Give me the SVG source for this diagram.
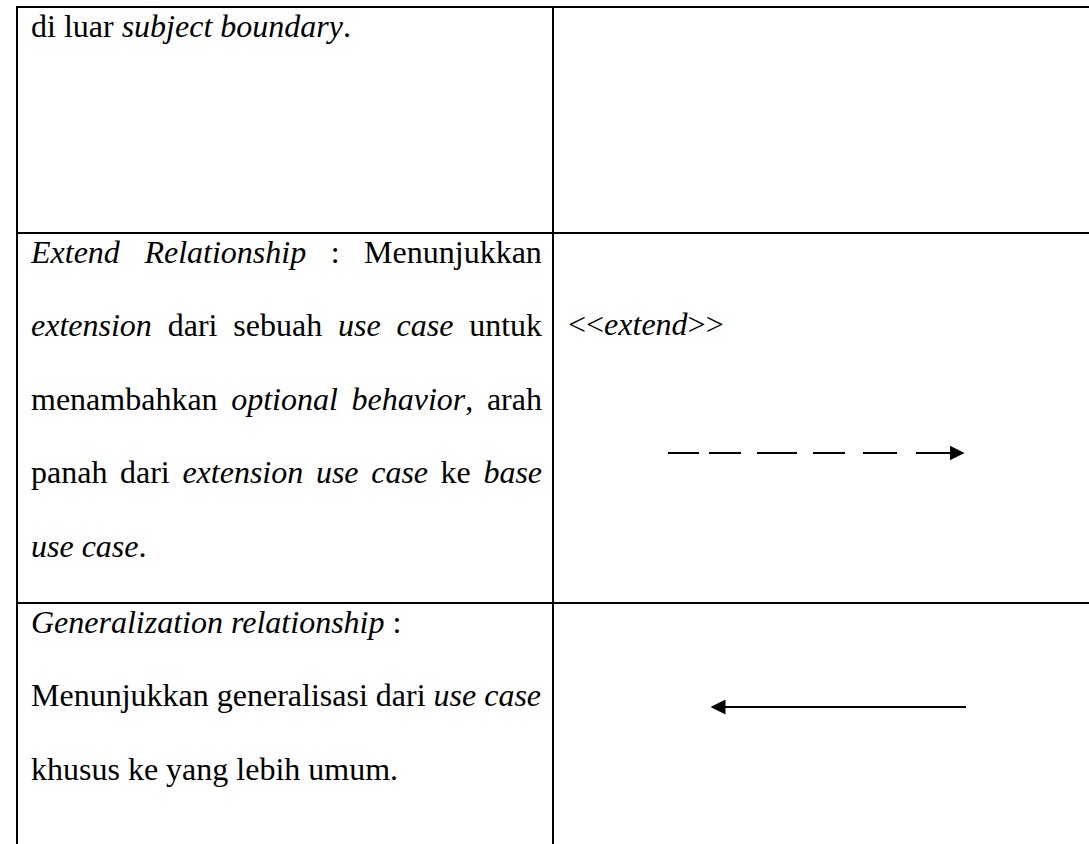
<svg xmlns="http://www.w3.org/2000/svg" width="1089" height="844" viewBox="0 0 1089 844">
<style>
text{font-family:"Liberation Serif","Times New Roman",serif;font-size:32px;fill:#000}
.i{font-style:italic}
.grid{stroke:#000;stroke-width:2;fill:none}
.conn{stroke:#000;stroke-width:2;fill:none}
</style>
<defs>
<marker id="head" viewBox="0 0 10 10" refX="9" refY="5" markerWidth="15" markerHeight="15" markerUnits="userSpaceOnUse" orient="auto">
<path d="M0,0 L10,5 L0,10 Z" fill="#000"/>
</marker>
</defs>
<rect width="1089" height="844" fill="#fff"/>
<g id="table" class="grid">
<line x1="17" y1="6" x2="17" y2="844"/>
<line x1="553" y1="6" x2="553" y2="844"/>
<line x1="16" y1="7" x2="1089" y2="7"/>
<line x1="16" y1="233" x2="1089" y2="233"/>
<line x1="16" y1="603" x2="1089" y2="603"/>
</g>
<g id="row-subject">
<text x="31" y="36.5">di luar <tspan class="i">subject boundary</tspan>.</text>
</g>
<g id="row-extend">
<text y="262.5"><tspan class="i" x="31">Extend</tspan><tspan class="i" x="144.4">Relationship</tspan><tspan x="330.7">:</tspan><tspan x="364.1">Menunjukkan</tspan></text>
<text y="336"><tspan class="i" x="31">extension</tspan><tspan x="167.7">dari</tspan><tspan x="233.3">sebuah</tspan><tspan class="i" x="338">use</tspan><tspan class="i" x="396.5">case</tspan><tspan x="469.2">untuk</tspan></text>
<text y="409.5"><tspan x="31">menambahkan</tspan><tspan class="i" x="231.2">optional</tspan><tspan x="351.5"><tspan class="i">behavior</tspan>,</tspan><tspan x="486.9">arah</tspan></text>
<text y="483"><tspan x="31">panah</tspan><tspan x="120">dari</tspan><tspan class="i" x="182.4">extension</tspan><tspan class="i" x="315.9">use</tspan><tspan class="i" x="371.2">case</tspan><tspan x="440.6">ke</tspan><tspan class="i" x="483.4">base</tspan></text>
<text y="556.5" x="31"><tspan class="i">use case</tspan>.</text>
<text x="568" y="335">&lt;&lt;<tspan class="i">extend</tspan>&gt;&gt;</text>
</g>
<g id="row-generalization">
<text x="31" y="632.5"><tspan class="i">Generalization relationship</tspan> :</text>
<text x="31" y="706">Menunjukkan generalisasi dari <tspan class="i">use case</tspan></text>
<text x="31" y="779.5">khusus ke yang lebih umum.</text>
</g>
<g id="connectors">
<path class="conn" d="M668,453 H699 M709,453 H741 M757,453 H797 M813,453 H845 M863,453 H897 M916,453 H963" marker-end="url(#head)"/>
<path class="conn" d="M966,707 H712" marker-end="url(#head)"/>
</g>
</svg>
